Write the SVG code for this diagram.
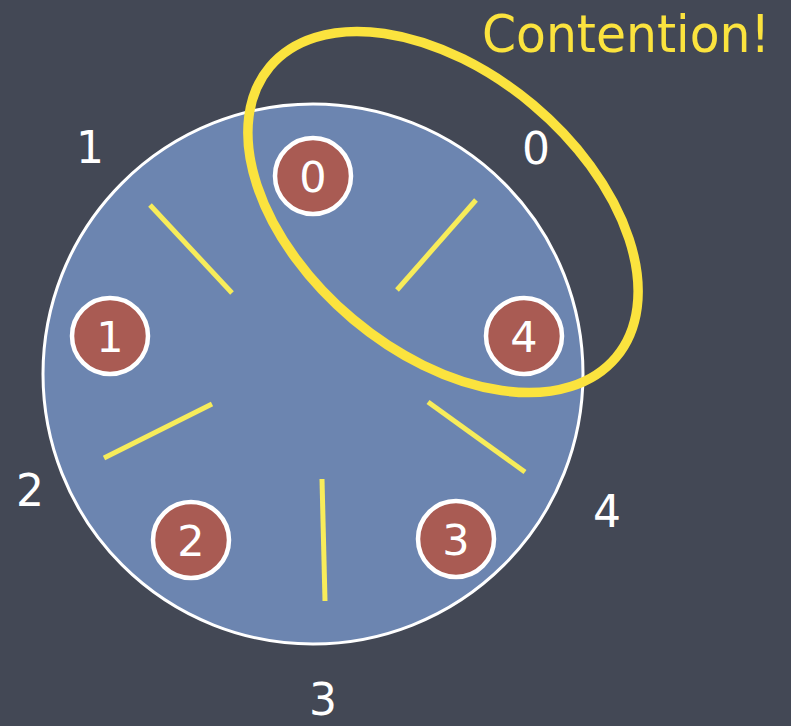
<svg xmlns="http://www.w3.org/2000/svg" width="791" height="726" viewBox="0 0 791 726">
<style>
.lbl{font-family:"DejaVu Sans","Noto Sans",sans-serif;font-size:44px;fill:#ffffff;text-anchor:middle}
.p circle{fill:#a95b53;stroke:#ffffff;stroke-width:4.5}
.p text{font-family:"DejaVu Sans","Noto Sans",sans-serif;font-size:43px;fill:#ffffff;text-anchor:middle}
.stick{stroke:#f7ec5a;stroke-width:5;stroke-linecap:butt}
</style>
<rect width="791" height="726" fill="#434855"/>
<g id="table">
<circle cx="313" cy="374" r="270" fill="#6c85b0" stroke="#ffffff" stroke-width="3"/>
</g>
<g id="chopsticks">
<line class="stick" x1="150" y1="205" x2="232" y2="293"/>
<line class="stick" x1="476" y1="200" x2="397" y2="290"/>
<line class="stick" x1="104" y1="458" x2="212" y2="404"/>
<line class="stick" x1="322" y1="479" x2="325" y2="601"/>
<line class="stick" x1="428" y1="402" x2="525" y2="472"/>
</g>
<g id="p0" class="p"><circle cx="313" cy="176" r="38"/><text x="313" y="192">0</text></g>
<g id="p1" class="p"><circle cx="110" cy="336" r="38"/><text x="110" y="352">1</text></g>
<g id="p2" class="p"><circle cx="191" cy="540" r="38"/><text x="191" y="556">2</text></g>
<g id="p3" class="p"><circle cx="456" cy="539" r="38"/><text x="456" y="555">3</text></g>
<g id="p4" class="p"><circle cx="524" cy="336" r="38"/><text x="524" y="352">4</text></g>
<g id="labels">
<text class="lbl" x="90" y="163">1</text>
<text class="lbl" x="536" y="164">0</text>
<text class="lbl" x="30" y="506">2</text>
<text class="lbl" x="607" y="527">4</text>
<text class="lbl" x="323" y="715">3</text>
</g>
<g id="contention">
<ellipse cx="443" cy="212" rx="226" ry="140" transform="rotate(40 443 212)" fill="none" stroke="#fbe33e" stroke-width="9.5"/>
<text x="482" y="52" font-family="DejaVu Sans,'Noto Sans',sans-serif" font-size="52" fill="#fbe33e" textLength="288" lengthAdjust="spacingAndGlyphs">Contention!</text>
</g>
</svg>
